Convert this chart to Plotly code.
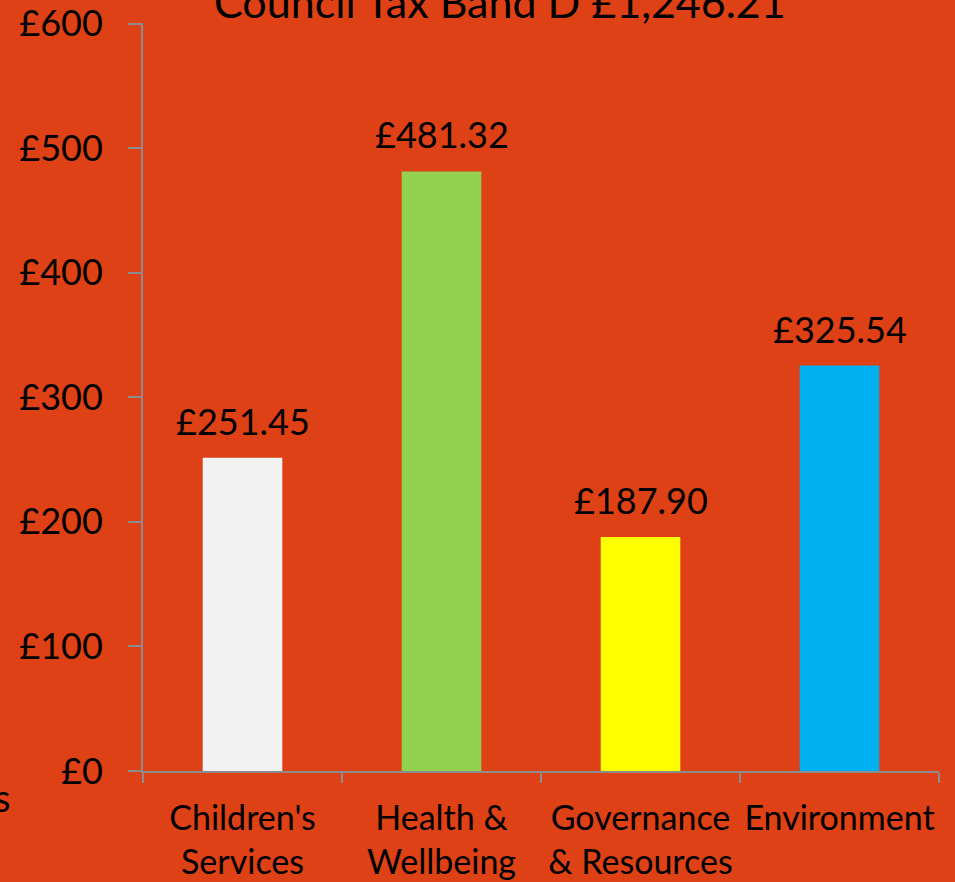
import plotly.graph_objects as go

categories = ["Children's<br>Services", "Health &<br>Wellbeing", "Governance<br>& Resources", "Environment"]
values = [251.45, 481.32, 187.90, 325.54]
labels = ["£251.45", "£481.32", "£187.90", "£325.54"]
colors = ["#F2F2F2", "#92D050", "#FFFF00", "#00B0F0"]
ytick_vals = [0, 100, 200, 300, 400, 500, 600]
ytick_text = ["£0", "£100", "£200", "£300", "£400", "£500", "£600"]
title_text = "Council Tax Band D £1,246.21"

BG = "#DD4115"
FONT = "Lato"

fig = go.Figure(go.Bar(
    x=categories, y=values, marker=dict(color=colors, line=dict(width=0)),
    hoverinfo="skip",
))

for c, v, t in zip(categories, values, labels):
    fig.add_annotation(x=c, y=v, text=t, xref="x", yref="y", showarrow=False,
                       xanchor="center", yanchor="bottom", yshift=13,
                       font=dict(family=FONT, size=36, color="black"))

fig.update_layout(
    width=955, height=882,
    margin=dict(l=143, r=16, t=23, b=111),
    paper_bgcolor=BG, plot_bgcolor=BG,
    bargap=0.6, showlegend=False,
    font=dict(family=FONT, color="black"),
)
fig.update_yaxes(
    range=[0, 600.5], tickvals=ytick_vals, ticktext=ytick_text, automargin=False,
    showgrid=False, zeroline=False, showline=True, linecolor="#8C8C8C", linewidth=2,
    ticks="outside", ticklen=13, tickcolor="#8C8C8C", tickwidth=2,
    tickfont=dict(family=FONT, size=36, color="black"), ticklabelstandoff=18,
    ticklabeloverflow="allow",
)
fig.update_xaxes(
    automargin=False, tickangle=0,
    showgrid=False, showline=True, linecolor="#8C8C8C", linewidth=2,
    ticks="outside", ticklen=10, tickcolor="#8C8C8C", tickwidth=2, tickson="boundaries",
    tickfont=dict(family=FONT, size=34, color="black"), ticklabelstandoff=16,
)
fig.add_annotation(text=title_text, xref="paper", yref="paper", x=0.449, y=0.992,
                   xanchor="center", yanchor="bottom", showarrow=False,
                   font=dict(family=FONT, size=43, color="black"))
fig.add_annotation(text="s", xref="paper", yref="paper", x=-0.165, y=-0.035,
                   xanchor="right", yanchor="middle", showarrow=False,
                   font=dict(family=FONT, size=38, color="black"))

fig.write_html("out.html", config={"displayModeBar": False},
               post_script="document.body.style.margin='0';document.body.style.overflow='hidden';")
